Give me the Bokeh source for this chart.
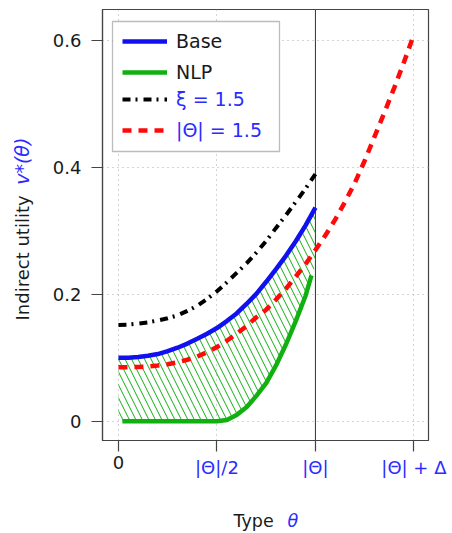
import math
from bokeh.plotting import figure
from bokeh.models import (Range1d, FixedTicker, Legend, LegendItem, Label,
                          Span, BoxAnnotation)
from bokeh.embed import file_html
from bokeh.resources import INLINE

# ---------------- data ----------------
base_theta = [0.0, 0.05, 0.1, 0.15, 0.2, 0.25, 0.3, 0.35, 0.4, 0.45, 0.5,
              0.55, 0.6, 0.65, 0.7, 0.75, 0.8, 0.85, 0.9, 0.95, 1.0]
base_v     = [0.100, 0.1003, 0.1012, 0.1032, 0.106, 0.1105, 0.116, 0.1225, 0.130, 0.138, 0.147,
              0.158, 0.170, 0.185, 0.201, 0.220, 0.240, 0.261, 0.284, 0.309, 0.337]

nlp_theta = [0.02, 0.50, 0.55, 0.60, 0.65, 0.70, 0.75, 0.80, 0.85, 0.90, 0.95, 0.98]
nlp_v     = [0.0, 0.0, 0.002, 0.010, 0.022, 0.040, 0.060, 0.088, 0.121, 0.158, 0.198, 0.230]

xi_theta = [0.0, 0.05, 0.1, 0.15, 0.2, 0.25, 0.3, 0.35, 0.4, 0.45, 0.5,
            0.55, 0.6, 0.65, 0.7, 0.75, 0.8, 0.85, 0.9, 0.95, 1.0]
xi_v     = [0.152, 0.1525, 0.154, 0.156, 0.159, 0.1625, 0.167, 0.174, 0.182, 0.193, 0.205,
            0.219, 0.234, 0.249, 0.266, 0.2845, 0.305, 0.325, 0.346, 0.367, 0.390]

big_theta = [0.0, 0.05, 0.1, 0.15, 0.2, 0.25, 0.3, 0.35, 0.4, 0.45, 0.5,
             0.55, 0.6, 0.65, 0.7, 0.75, 0.8, 0.85, 0.9, 0.95, 1.0,
             1.05, 1.1, 1.15, 1.2, 1.25, 1.3, 1.35, 1.4, 1.45, 1.5]
big_v     = [0.085, 0.0852, 0.0857, 0.0865, 0.088, 0.090, 0.093, 0.097, 0.102, 0.109, 0.117,
             0.127, 0.138, 0.150, 0.164, 0.176, 0.192, 0.209, 0.228, 0.248, 0.270,
             0.293, 0.318, 0.346, 0.376, 0.411, 0.449, 0.487, 0.526, 0.567, 0.610]

# lower edge of the hatched gap (NLP curve, 0 before it starts, up to |Θ|)
gap_low_theta = [1.0, 0.98, 0.95, 0.90, 0.85, 0.80, 0.75, 0.70, 0.65, 0.60, 0.55, 0.50, 0.02, 0.0]
gap_low_v     = [0.245, 0.230, 0.198, 0.158, 0.121, 0.088, 0.060, 0.040, 0.022, 0.010, 0.002, 0.0, 0.0, 0.0]

x_ticks = [0, 0.5, 1, 1.5]
x_tick_labels = ["0", "|Θ|/2", "|Θ|", "|Θ| + Δ"]
y_ticks = [0, 0.2, 0.4, 0.6]
y_tick_labels = ["0", "0.2", "0.4", "0.6"]
theta_bar = 1.0

# ---------------- styling ----------------
BLUE = "#1010f0"
GREEN = "#10b010"
RED = "#ff0a0a"
BLACK = "#000000"
TXT_BLUE = "#2b2bff"
TXT = "#1a1a1a"
FONT = "DejaVu Sans"
AX = "#444444"

p = figure(width=452, height=533,
           x_range=Range1d(-0.081, 1.574), y_range=Range1d(-0.0304, 0.6496),
           output_backend="svg", toolbar_location=None,
           min_border_left=102, min_border_right=24,
           min_border_top=9, min_border_bottom=93)
p.outline_line_color = AX
p.outline_line_width = 1.2
p.background_fill_color = "white"
p.border_fill_color = "white"

# axes
p.xaxis.ticker = FixedTicker(ticks=x_ticks)
p.xaxis.major_label_overrides = {t: (l if i > 0 else "")
                                 for i, (t, l) in enumerate(zip(x_ticks, x_tick_labels))}
p.yaxis.ticker = FixedTicker(ticks=y_ticks)
p.yaxis.major_label_overrides = {t: l for t, l in zip(y_ticks, y_tick_labels)}
for ax in (p.xaxis[0], p.yaxis[0]):
    ax.major_tick_out = 11
    ax.major_tick_in = 0
    ax.minor_tick_line_color = None
    ax.major_tick_line_color = AX
    ax.major_tick_line_width = 1.2
    ax.axis_line_color = AX
    ax.axis_line_width = 1.2
    ax.major_label_text_font = FONT
    ax.major_label_text_font_size = "18px"
p.xaxis.major_label_text_color = TXT_BLUE
p.yaxis.major_label_text_color = TXT
p.xaxis.major_label_standoff = 5
p.yaxis.major_label_standoff = 10

p.xgrid.ticker = FixedTicker(ticks=x_ticks)
p.ygrid.ticker = FixedTicker(ticks=y_ticks)
for g in (p.xgrid[0], p.ygrid[0]):
    g.grid_line_color = "#aaaaaa"
    g.grid_line_dash = "1 4"
    g.grid_line_width = 1

# vertical line at |Θ|
p.add_layout(Span(location=theta_bar, dimension="height", line_color="#333333",
                  line_width=1, level="underlay"))

# hatched gap between Base and NLP
p.patch(x=base_theta + gap_low_theta, y=base_v + gap_low_v,
        fill_alpha=0, line_color=None,
        hatch_pattern="\\", hatch_color=GREEN, hatch_scale=13, hatch_weight=1)

r_green = p.line(nlp_theta, nlp_v, line_color=GREEN, line_width=4.5)
r_blue = p.line(base_theta, base_v, line_color=BLUE, line_width=4.5)
r_red = p.line(big_theta, big_v, line_color=RED, line_width=4.5, line_dash="9 7")
r_black = p.line(xi_theta, xi_v, line_color=BLACK, line_width=4, line_dash="8 5 2 6")

# legend box
p.add_layout(BoxAnnotation(left=10, right=177, top=419, bottom=289,
                           left_units="screen", right_units="screen",
                           top_units="screen", bottom_units="screen",
                           fill_color="white", fill_alpha=1,
                           line_color="#222222", line_width=1.3))

def make_legend(items, loc, color):
    return Legend(items=items, location=loc, orientation="vertical",
                  glyph_width=45, glyph_height=20, label_height=20,
                  spacing=9, padding=0, margin=0, label_standoff=9,
                  border_line_color=None, background_fill_alpha=0,
                  label_text_font=FONT, label_text_font_size="19px",
                  label_text_color=color)

leg1 = make_legend([LegendItem(label="Base", renderers=[r_blue]),
                    LegendItem(label="NLP", renderers=[r_green])], (20, 357), TXT)
leg2 = make_legend([LegendItem(label="ξ = 1.5", renderers=[r_black]),
                    LegendItem(label="|Θ| = 1.5", renderers=[r_red])], (20, 299), TXT_BLUE)
p.add_layout(leg1, "center")
p.add_layout(leg2, "center")

# texts outside the frame (in side panels so they are not clipped,
# positioned through the plot's scales)
def outer_label(side, x, y, text, color, **kw):
    p.add_layout(Label(x=x, y=y, x_units="data", y_units="data", text=text,
                       text_font=FONT, text_color=color, **kw), side)

# black "0" tick label on the x axis
outer_label("right", x_ticks[0], -0.0556, x_tick_labels[0], TXT, text_align="center",
            text_baseline="top", text_font_size="18px")
# x axis title
outer_label("below", 0.584, -0.1575, "Type", TXT, text_baseline="middle",
            text_font_size="17.5px")
outer_label("right", 0.858, -0.1575, "θ", TXT_BLUE, text_baseline="middle",
            text_font_size="17.5px", text_font_style="italic")
# y axis title
outer_label("left", -0.4896, 0.159, "Indirect utility", TXT, angle=math.pi / 2,
            text_align="left", text_baseline="middle", text_font_size="18px")
outer_label("left", -0.4896, 0.373, "v*(θ)", TXT_BLUE, angle=math.pi / 2,
            text_align="left", text_baseline="middle", text_font_size="19px",
            text_font_style="italic")

open("out.html", "w").write(file_html(p, INLINE))
